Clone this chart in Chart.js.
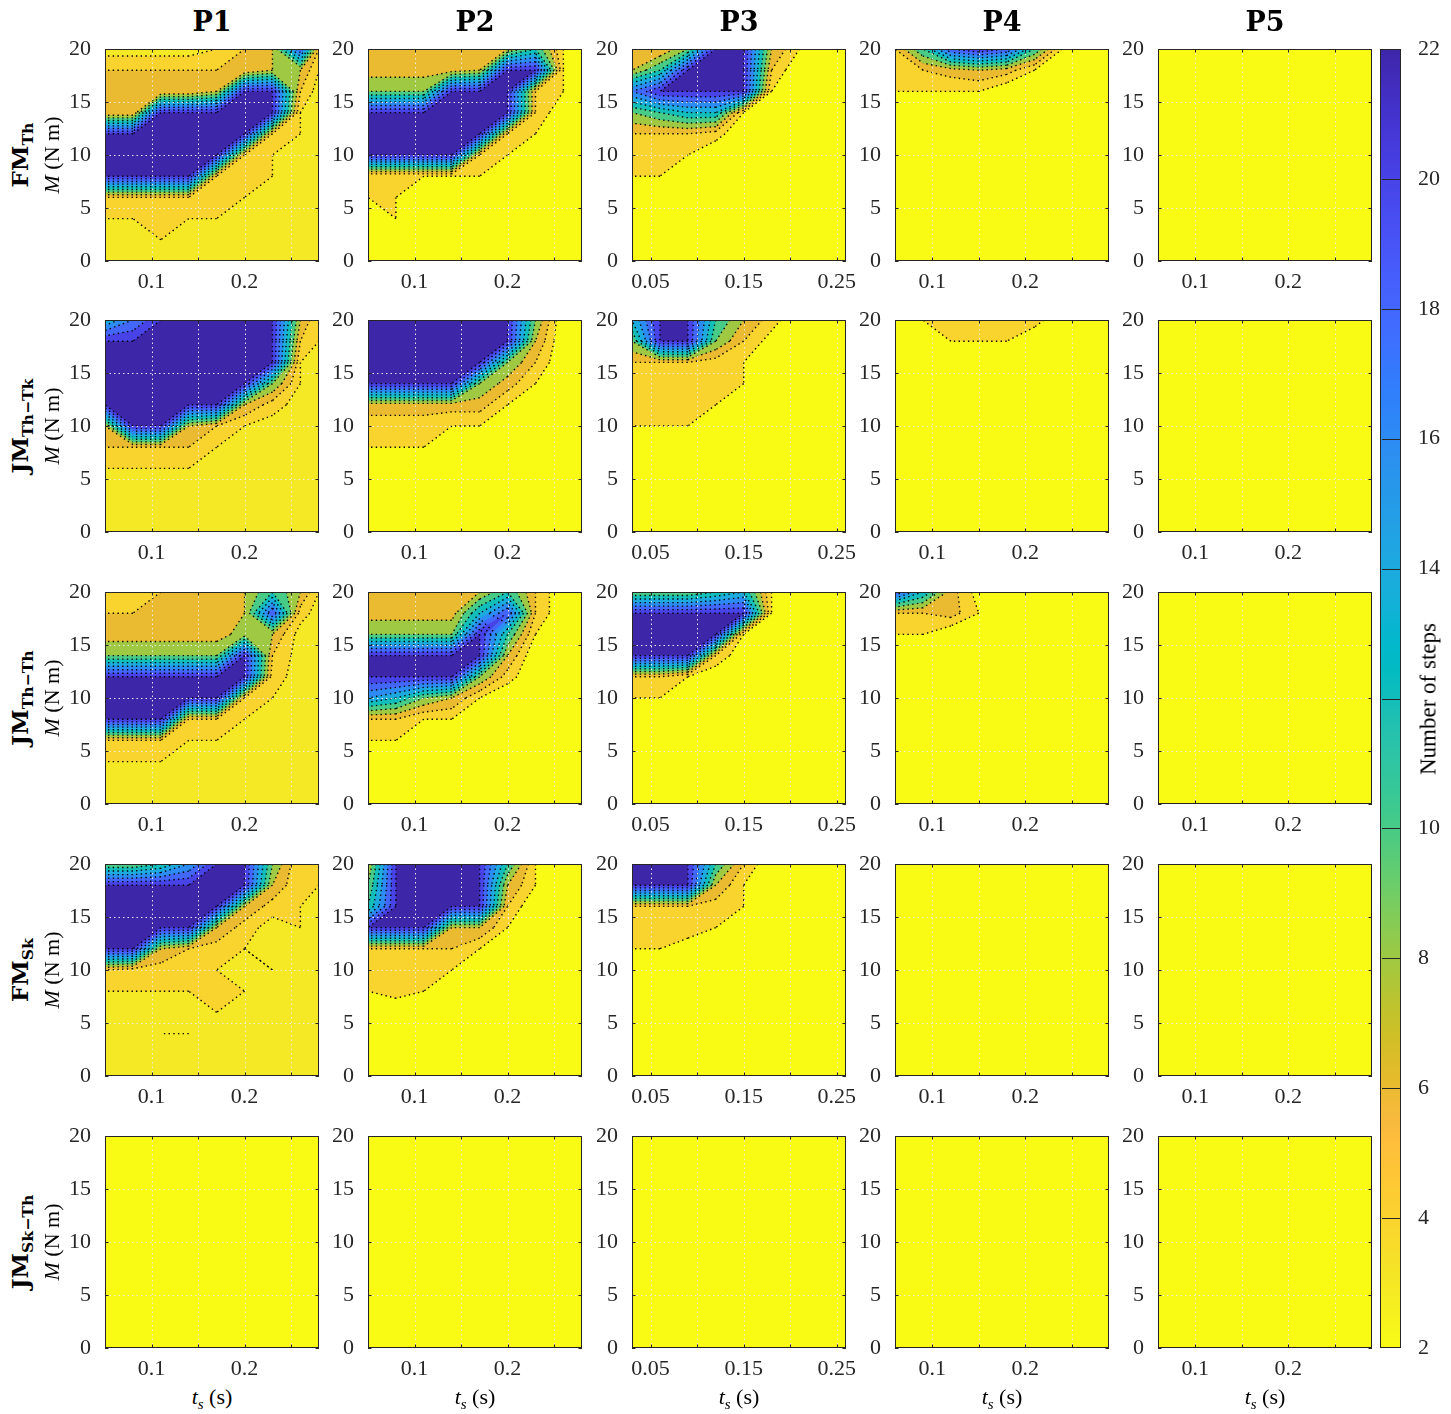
<!DOCTYPE html>
<html>
<head>
<meta charset="utf-8">
<script src="https://cdn.jsdelivr.net/npm/chart.js@4.4.0/dist/chart.umd.min.js"></script>
<style>
  body { margin: 0; background: #fff; width: 1451px; height: 1414px; position: relative; overflow: hidden; }
  canvas { position: absolute; }
  .lbl { position: absolute; white-space: nowrap; color: #000; line-height: 1; }
  .title { font-family: 'DejaVu Serif', serif; font-weight: bold; font-size: 27px; transform: translate(-50%, 0); }
  .rot { transform: translate(-50%, -50%) rotate(-90deg); }
  .bold { font-family: 'DejaVu Serif', serif; font-weight: bold; font-size: 23px; }
  .reg { font-family: 'Liberation Serif', serif; font-size: 22px; }
  .cbl { font-family: 'Liberation Serif', serif; font-size: 23px; }
  .xl { transform: translate(-50%, -50%); }
  sub { font-size: 0.68em; vertical-align: -0.28em; }
</style>
</head>
<body>
<script>
// ---- data ----
const colNames = ['P1', 'P2', 'P3', 'P4', 'P5'];
const rowNames = ['FM<sub>Th</sub>', 'JM<sub>Th\u2212Tk</sub>', 'JM<sub>Th\u2212Th</sub>', 'FM<sub>Sk</sub>', 'JM<sub>Sk\u2212Th</sub>'];

// M (N m), top row of every grid first
const torqueLevels = [20, 18, 16, 14, 12, 10, 8, 6, 4, 2, 0];
// ts (s) sample points per column
const tsP1P2 = [0.05, 0.08, 0.11, 0.14, 0.17, 0.20, 0.23, 0.26, 0.28];
const tsP3 = [0.03, 0.06, 0.09, 0.12, 0.15, 0.18, 0.21, 0.24, 0.26];
const tsP4P5 = [0.06, 0.09, 0.12, 0.15, 0.18, 0.21, 0.24, 0.27, 0.29];

const xTickValues = [
  [0.05, 0.1, 0.15, 0.2, 0.25], [0.05, 0.1, 0.15, 0.2, 0.25], [0.05, 0.1, 0.15, 0.2, 0.25],
  [0.1, 0.15, 0.2, 0.25], [0.1, 0.15, 0.2, 0.25]
];
const xTickLabels = [
  ['', '0.1', '', '0.2', ''], ['', '0.1', '', '0.2', ''], ['0.05', '', '0.15', '', '0.25'],
  ['0.1', '', '0.2', ''], ['0.1', '', '0.2', '']
];
const yTickValues = [0, 5, 10, 15, 20];
const stepLevels = [2, 4, 6, 8, 10, 12, 14, 16, 18, 20, 22];
const colorbarTicks = [2, 4, 6, 8, 10, 12, 14, 16, 18, 20, 22];
const colorbarTickLabels = ['2', '4', '6', '8', '10', '', '14', '16', '18', '20', '22'];

// number of steps, rows = torqueLevels, cols = ts points
const flatTwo = [
  [2, 2, 2, 2, 2, 2, 2, 2, 2], [2, 2, 2, 2, 2, 2, 2, 2, 2], [2, 2, 2, 2, 2, 2, 2, 2, 2],
  [2, 2, 2, 2, 2, 2, 2, 2, 2], [2, 2, 2, 2, 2, 2, 2, 2, 2], [2, 2, 2, 2, 2, 2, 2, 2, 2],
  [2, 2, 2, 2, 2, 2, 2, 2, 2], [2, 2, 2, 2, 2, 2, 2, 2, 2], [2, 2, 2, 2, 2, 2, 2, 2, 2],
  [2, 2, 2, 2, 2, 2, 2, 2, 2], [2, 2, 2, 2, 2, 2, 2, 2, 2]
];

const fmThP1 = [
  [3, 3, 3, 3, 4, 6, 8, 20, 6],
  [6, 6, 6, 6, 6, 6, 8, 8, 4],
  [6, 6, 6, 6, 8, 22, 22, 6, 3],
  [6, 6, 22, 22, 22, 22, 22, 4, 3],
  [22, 22, 22, 22, 22, 22, 6, 4, 3],
  [22, 22, 22, 22, 22, 6, 4, 3, 3],
  [22, 22, 22, 22, 6, 4, 4, 3, 3],
  [6, 6, 6, 6, 4, 4, 3, 3, 3],
  [4, 4, 4, 4, 4, 3, 3, 3, 3],
  [3, 3, 4, 3, 3, 3, 3, 3, 3],
  [3, 3, 3, 3, 3, 3, 3, 3, 3]
];
const fmThP2 = [
  [7, 7, 7, 7, 7, 8, 12, 4, 2],
  [7, 7, 7, 7, 8, 22, 22, 4, 2],
  [10, 10, 10, 22, 22, 22, 6, 4, 2],
  [22, 22, 22, 22, 22, 22, 6, 2, 2],
  [22, 22, 22, 22, 22, 6, 4, 2, 2],
  [22, 22, 22, 22, 6, 4, 2, 2, 2],
  [4, 4, 4, 4, 4, 2, 2, 2, 2],
  [4, 4, 2, 2, 2, 2, 2, 2, 2],
  [2, 4, 2, 2, 2, 2, 2, 2, 2],
  [2, 2, 2, 2, 2, 2, 2, 2, 2],
  [2, 2, 2, 2, 2, 2, 2, 2, 2]
];
const fmThP3 = [
  [6, 6, 10, 22, 22, 8, 4, 2, 2],
  [8, 12, 22, 22, 22, 6, 2, 2, 2],
  [18, 22, 22, 22, 22, 4, 2, 2, 2],
  [10, 12, 14, 14, 4, 2, 2, 2, 2],
  [6, 6, 6, 5, 2, 2, 2, 2, 2],
  [4, 4, 4, 2, 2, 2, 2, 2, 2],
  [4, 4, 2, 2, 2, 2, 2, 2, 2],
  [2, 2, 2, 2, 2, 2, 2, 2, 2],
  [2, 2, 2, 2, 2, 2, 2, 2, 2],
  [2, 2, 2, 2, 2, 2, 2, 2, 2],
  [2, 2, 2, 2, 2, 2, 2, 2, 2]
];
const fmThP4 = [
  [6, 12, 20, 22, 20, 12, 4, 2, 2],
  [4, 6, 7, 8, 7, 4, 2, 2, 2],
  [4, 4, 4, 4, 2, 2, 2, 2, 2],
  [2, 2, 2, 2, 2, 2, 2, 2, 2],
  [2, 2, 2, 2, 2, 2, 2, 2, 2],
  [2, 2, 2, 2, 2, 2, 2, 2, 2],
  [2, 2, 2, 2, 2, 2, 2, 2, 2],
  [2, 2, 2, 2, 2, 2, 2, 2, 2],
  [2, 2, 2, 2, 2, 2, 2, 2, 2],
  [2, 2, 2, 2, 2, 2, 2, 2, 2],
  [2, 2, 2, 2, 2, 2, 2, 2, 2]
];

const jmThTkP1 = [
  [14, 18, 22, 22, 22, 22, 22, 8, 4],
  [22, 22, 22, 22, 22, 22, 22, 6, 4],
  [22, 22, 22, 22, 22, 22, 22, 4, 3],
  [22, 22, 22, 22, 22, 22, 10, 4, 3],
  [22, 22, 22, 22, 22, 8, 5, 3, 3],
  [8, 22, 22, 8, 6, 4, 3, 3, 3],
  [6, 6, 6, 6, 4, 3, 3, 3, 3],
  [4, 4, 4, 4, 3, 3, 3, 3, 3],
  [3, 3, 3, 3, 3, 3, 3, 3, 3],
  [3, 3, 4, 3, 3, 3, 3, 3, 3],
  [3, 3, 3, 3, 3, 3, 3, 3, 3]
];
const jmThTkP2 = [
  [22, 22, 22, 22, 22, 22, 10, 2, 2],
  [22, 22, 22, 22, 22, 22, 8, 2, 2],
  [22, 22, 22, 22, 22, 10, 6, 2, 2],
  [22, 22, 22, 22, 10, 7, 4, 2, 2],
  [7, 7, 7, 7, 7, 4, 2, 2, 2],
  [5, 5, 5, 4, 4, 2, 2, 2, 2],
  [4, 4, 4, 2, 2, 2, 2, 2, 2],
  [2, 2, 2, 2, 2, 2, 2, 2, 2],
  [2, 2, 2, 2, 2, 2, 2, 2, 2],
  [2, 2, 2, 2, 2, 2, 2, 2, 2],
  [2, 2, 2, 2, 2, 2, 2, 2, 2]
];
const jmThTkP3 = [
  [14, 22, 22, 12, 8, 5, 2, 2, 2],
  [10, 22, 22, 10, 6, 3, 2, 2, 2],
  [6, 6, 6, 5, 4, 2, 2, 2, 2],
  [4, 4, 4, 4, 4, 2, 2, 2, 2],
  [4, 4, 4, 4, 2, 2, 2, 2, 2],
  [4, 4, 4, 2, 2, 2, 2, 2, 2],
  [2, 2, 2, 2, 2, 2, 2, 2, 2],
  [2, 2, 2, 2, 2, 2, 2, 2, 2],
  [2, 2, 2, 2, 2, 2, 2, 2, 2],
  [2, 2, 2, 2, 2, 2, 2, 2, 2],
  [2, 2, 2, 2, 2, 2, 2, 2, 2]
];
const jmThTkP4 = [
  [2, 4, 5, 5, 5, 5, 2, 2, 2],
  [2, 2, 4, 4, 4, 2, 2, 2, 2],
  [2, 2, 2, 2, 2, 2, 2, 2, 2],
  [2, 2, 2, 2, 2, 2, 2, 2, 2],
  [2, 2, 2, 2, 2, 2, 2, 2, 2],
  [2, 2, 2, 2, 2, 2, 2, 2, 2],
  [2, 2, 2, 2, 2, 2, 2, 2, 2],
  [2, 2, 2, 2, 2, 2, 2, 2, 2],
  [2, 2, 2, 2, 2, 2, 2, 2, 2],
  [2, 2, 2, 2, 2, 2, 2, 2, 2],
  [2, 2, 2, 2, 2, 2, 2, 2, 2]
];

const jmThThP1 = [
  [5, 5, 6, 6, 6, 8, 12, 8, 4],
  [6, 6, 7, 7, 7, 8, 20, 5, 3],
  [7, 7, 7, 7, 7, 9, 8, 3, 3],
  [10, 10, 10, 10, 10, 22, 6, 3, 3],
  [22, 22, 22, 22, 22, 22, 5, 3, 3],
  [22, 22, 22, 22, 22, 6, 4, 3, 3],
  [22, 22, 22, 6, 6, 4, 3, 3, 3],
  [6, 6, 6, 4, 4, 3, 3, 3, 3],
  [4, 4, 4, 3, 3, 3, 3, 3, 3],
  [3, 3, 3, 3, 3, 3, 3, 3, 3],
  [3, 3, 3, 3, 3, 3, 3, 3, 3]
];
const jmThThP2 = [
  [7, 7, 7, 7, 8, 12, 6, 2, 2],
  [7, 7, 7, 7, 14, 20, 6, 2, 2],
  [10, 10, 10, 10, 22, 12, 4, 2, 2],
  [22, 22, 22, 22, 22, 8, 2, 2, 2],
  [22, 22, 22, 22, 10, 5, 2, 2, 2],
  [16, 14, 10, 8, 4, 2, 2, 2, 2],
  [6, 6, 4, 4, 2, 2, 2, 2, 2],
  [4, 4, 2, 2, 2, 2, 2, 2, 2],
  [2, 2, 2, 2, 2, 2, 2, 2, 2],
  [2, 2, 2, 2, 2, 2, 2, 2, 2],
  [2, 2, 2, 2, 2, 2, 2, 2, 2]
];
const jmThThP3 = [
  [10, 10, 10, 12, 14, 4, 2, 2, 2],
  [22, 22, 22, 22, 22, 4, 2, 2, 2],
  [22, 22, 22, 22, 4, 2, 2, 2, 2],
  [22, 22, 22, 6, 2, 2, 2, 2, 2],
  [6, 6, 4, 2, 2, 2, 2, 2, 2],
  [4, 4, 2, 2, 2, 2, 2, 2, 2],
  [2, 2, 2, 2, 2, 2, 2, 2, 2],
  [2, 2, 2, 2, 2, 2, 2, 2, 2],
  [2, 2, 2, 2, 2, 2, 2, 2, 2],
  [2, 2, 2, 2, 2, 2, 2, 2, 2],
  [2, 2, 2, 2, 2, 2, 2, 2, 2]
];
const jmThThP4 = [
  [20, 14, 7, 3, 2, 2, 2, 2, 2],
  [6, 6, 7, 4, 2, 2, 2, 2, 2],
  [4, 4, 2, 2, 2, 2, 2, 2, 2],
  [2, 2, 2, 2, 2, 2, 2, 2, 2],
  [2, 2, 2, 2, 2, 2, 2, 2, 2],
  [2, 2, 2, 2, 2, 2, 2, 2, 2],
  [2, 2, 2, 2, 2, 2, 2, 2, 2],
  [2, 2, 2, 2, 2, 2, 2, 2, 2],
  [2, 2, 2, 2, 2, 2, 2, 2, 2],
  [2, 2, 2, 2, 2, 2, 2, 2, 2],
  [2, 2, 2, 2, 2, 2, 2, 2, 2]
];

const fmSkP1 = [
  [10, 10, 12, 16, 22, 22, 10, 4, 4],
  [22, 22, 22, 22, 22, 22, 8, 4, 4],
  [22, 22, 22, 22, 22, 8, 5, 4, 3],
  [22, 22, 22, 22, 8, 5, 3, 4, 3],
  [22, 22, 8, 6, 5, 4, 3, 3, 3],
  [6, 5, 5, 5, 4, 3, 4, 3, 3],
  [4, 4, 4, 4, 4, 4, 3, 3, 3],
  [3, 3, 3, 3, 4, 3, 3, 3, 3],
  [3, 3, 4, 4, 3, 3, 3, 3, 3],
  [3, 3, 3, 3, 3, 3, 3, 3, 3],
  [3, 3, 3, 3, 3, 3, 3, 3, 3]
];
const fmSkP2 = [
  [8, 22, 22, 22, 22, 12, 4, 2, 2],
  [10, 22, 22, 22, 22, 8, 4, 2, 2],
  [12, 22, 22, 22, 22, 6, 2, 2, 2],
  [22, 22, 22, 8, 8, 4, 2, 2, 2],
  [6, 6, 6, 6, 4, 2, 2, 2, 2],
  [5, 5, 5, 4, 2, 2, 2, 2, 2],
  [4, 5, 4, 2, 2, 2, 2, 2, 2],
  [2, 2, 2, 2, 2, 2, 2, 2, 2],
  [2, 2, 2, 2, 2, 2, 2, 2, 2],
  [2, 2, 2, 2, 2, 2, 2, 2, 2],
  [2, 2, 2, 2, 2, 2, 2, 2, 2]
];
const fmSkP3 = [
  [22, 22, 22, 12, 6, 2, 2, 2, 2],
  [22, 22, 22, 8, 4, 2, 2, 2, 2],
  [6, 6, 6, 5, 4, 2, 2, 2, 2],
  [5, 5, 5, 4, 2, 2, 2, 2, 2],
  [4, 4, 3, 2, 2, 2, 2, 2, 2],
  [2, 2, 2, 2, 2, 2, 2, 2, 2],
  [2, 2, 2, 2, 2, 2, 2, 2, 2],
  [2, 2, 2, 2, 2, 2, 2, 2, 2],
  [2, 2, 2, 2, 2, 2, 2, 2, 2],
  [2, 2, 2, 2, 2, 2, 2, 2, 2],
  [2, 2, 2, 2, 2, 2, 2, 2, 2]
];

const panelSteps = [
  [fmThP1, fmThP2, fmThP3, fmThP4, flatTwo],
  [jmThTkP1, jmThTkP2, jmThTkP3, jmThTkP4, flatTwo],
  [jmThThP1, jmThThP2, jmThThP3, jmThThP4, flatTwo],
  [fmSkP1, fmSkP2, fmSkP3, flatTwo, flatTwo],
  [flatTwo, flatTwo, flatTwo, flatTwo, flatTwo]
];
const tsGrids = [tsP1P2, tsP1P2, tsP3, tsP4P5, tsP4P5];

// ---- layout ----
const plotLeft = [105, 368, 632, 895, 1158];
const plotTop = [49, 320, 592, 864, 1136];
const plotW = 214, plotH = 212;
const padL = 52, padT = 12, padR = 18, padB = 34;
const cbar = { left: 1380, top: 49, width: 21, height: 1299 };

// parula colormap (MATLAB), reversed for "Number of steps"
const parula = [
  [.2422,.1504,.6603],[.2504,.1650,.7076],[.2578,.1818,.7511],[.2647,.1978,.7952],[.2706,.2147,.8364],[.2751,.2342,.8710],
  [.2783,.2559,.8991],[.2803,.2782,.9221],[.2813,.3006,.9414],[.2810,.3228,.9579],[.2795,.3447,.9717],[.2760,.3667,.9829],
  [.2699,.3892,.9906],[.2602,.4123,.9952],[.2440,.4358,.9988],[.2206,.4603,.9973],[.1963,.4847,.9892],[.1834,.5074,.9798],
  [.1786,.5289,.9682],[.1764,.5499,.9520],[.1687,.5703,.9359],[.1540,.5902,.9218],[.1460,.6091,.9079],[.1380,.6276,.8973],
  [.1248,.6459,.8883],[.1113,.6635,.8763],[.0952,.6798,.8598],[.0689,.6948,.8394],[.0297,.7082,.8163],[.0036,.7203,.7917],
  [.0067,.7312,.7660],[.0433,.7411,.7394],[.0964,.7500,.7120],[.1408,.7584,.6842],[.1717,.7670,.6554],[.1938,.7758,.6251],
  [.2161,.7843,.5923],[.2470,.7918,.5567],[.2906,.7973,.5188],[.3406,.8008,.4789],[.3909,.8029,.4354],[.4456,.8024,.3909],
  [.5044,.7993,.3480],[.5616,.7942,.3045],[.6174,.7876,.2612],[.6720,.7793,.2227],[.7242,.7698,.1910],[.7738,.7598,.1646],
  [.8203,.7498,.1535],[.8634,.7406,.1596],[.9035,.7330,.1774],[.9393,.7288,.2100],[.9728,.7298,.2394],[.9956,.7434,.2371],
  [.9970,.7659,.2199],[.9952,.7893,.2028],[.9892,.8136,.1885],[.9786,.8386,.1766],[.9676,.8639,.1643],[.9610,.8890,.1537],
  [.9597,.9135,.1423],[.9628,.9373,.1265],[.9691,.9606,.1064],[.9769,.9839,.0805]
];

function rgb(c) {
  return 'rgb(' + Math.round(c[0] * 255) + ',' + Math.round(c[1] * 255) + ',' + Math.round(c[2] * 255) + ')';
}
function parulaAt(s) {
  const f = Math.min(Math.max(s, 0), 1) * 63;
  const i = Math.min(Math.floor(f), 62), t = f - i;
  const a = parula[i], b = parula[i + 1];
  return rgb([0, 1, 2].map(k => a[k] + (b[k] - a[k]) * t));
}
function stepColor(v) {
  return parulaAt((22 - v) / 20);
}

// one cell of the grid against a level: filled polygon (z >= level) and crossing points
function cellCut(level, c) {
  const poly = [], cross = [];
  for (let k = 0; k < 4; k++) {
    const p = c[k], q = c[(k + 1) % 4];
    const pin = p.z >= level, qin = q.z >= level;
    if (pin) poly.push([p.x, p.y]);
    if (pin !== qin) {
      const t = (level - p.z) / (q.z - p.z);
      const pt = [p.x + (q.x - p.x) * t, p.y + (q.y - p.y) * t];
      poly.push(pt);
      cross.push(pt);
    }
  }
  return { poly, cross };
}

const contourPlugin = {
  id: 'contour',
  beforeDatasetsDraw(chart) {
    const ds = chart.data.datasets[0];
    const nx = ds.nx, ny = ds.data.length / nx;
    const { ctx, chartArea: a, scales: { x, y } } = chart;
    const node = (i, j) => {
      const p = ds.data[j * nx + i];
      return { x: x.getPixelForValue(p.x), y: y.getPixelForValue(p.y), z: p.v };
    };
    const cells = [];
    for (let j = 0; j < ny - 1; j++) {
      for (let i = 0; i < nx - 1; i++) {
        cells.push([node(i, j), node(i + 1, j), node(i + 1, j + 1), node(i, j + 1)]);
      }
    }
    const zmin = Math.min(...ds.data.map(p => p.v));
    const levels = stepLevels.filter(l => l > zmin);

    ctx.save();
    ctx.beginPath();
    ctx.rect(a.left, a.top, a.right - a.left, a.bottom - a.top);
    ctx.clip();
    ctx.fillStyle = stepColor(zmin);
    ctx.fillRect(a.left, a.top, a.right - a.left, a.bottom - a.top);

    levels.forEach(level => {
      ctx.beginPath();
      cells.forEach(c => {
        const { poly } = cellCut(level, c);
        if (poly.length < 3) return;
        ctx.moveTo(poly[0][0], poly[0][1]);
        for (let k = 1; k < poly.length; k++) ctx.lineTo(poly[k][0], poly[k][1]);
        ctx.closePath();
      });
      ctx.fillStyle = stepColor(level);
      ctx.fill();
    });

    ctx.strokeStyle = '#000';
    ctx.lineWidth = 1.4;
    ctx.setLineDash([1.4, 3.3]);
    levels.forEach(level => {
      ctx.beginPath();
      cells.forEach(c => {
        const { cross } = cellCut(level, c);
        for (let k = 0; k + 1 < cross.length; k += 2) {
          ctx.moveTo(cross[k][0], cross[k][1]);
          ctx.lineTo(cross[k + 1][0], cross[k + 1][1]);
        }
      });
      ctx.stroke();
    });
    ctx.restore();
  }
};

const framePlugin = {
  id: 'frame',
  afterDatasetsDraw(chart) {
    const { ctx, chartArea: a, scales: { x, y } } = chart;
    ctx.save();
    ctx.lineWidth = 1;
    ctx.strokeStyle = 'rgba(236,236,236,0.95)';
    ctx.setLineDash([1.5, 3]);
    ctx.beginPath();
    x.ticks.forEach(t => {
      const p = Math.round(x.getPixelForValue(t.value)) + 0.5;
      if (p < a.left + 2 || p > a.right - 2) return;
      ctx.moveTo(p, a.top); ctx.lineTo(p, a.bottom);
    });
    y.ticks.forEach(t => {
      const p = Math.round(y.getPixelForValue(t.value)) + 0.5;
      if (p < a.top + 2 || p > a.bottom - 2) return;
      ctx.moveTo(a.left, p); ctx.lineTo(a.right, p);
    });
    ctx.stroke();

    ctx.setLineDash([]);
    ctx.strokeStyle = '#262626';
    ctx.beginPath();
    x.ticks.forEach(t => {
      const p = Math.round(x.getPixelForValue(t.value)) + 0.5;
      ctx.moveTo(p, a.bottom); ctx.lineTo(p, a.bottom - 3.5);
      ctx.moveTo(p, a.top); ctx.lineTo(p, a.top + 3.5);
    });
    y.ticks.forEach(t => {
      const p = Math.round(y.getPixelForValue(t.value)) + 0.5;
      ctx.moveTo(a.left, p); ctx.lineTo(a.left + 3.5, p);
      ctx.moveTo(a.right, p); ctx.lineTo(a.right - 3.5, p);
    });
    ctx.stroke();
    ctx.strokeRect(a.left + 0.5, a.top + 0.5, a.right - a.left - 1, a.bottom - a.top - 1);
    ctx.restore();
  }
};

const tickFont = { family: "'Liberation Serif', serif", size: 22 };

function makePanel(r, c) {
  const canvas = document.createElement('canvas');
  canvas.width = padL + plotW + padR;
  canvas.height = padT + plotH + padB;
  canvas.style.left = (plotLeft[c] - padL) + 'px';
  canvas.style.top = (plotTop[r] - padT) + 'px';
  document.body.appendChild(canvas);

  const ts = tsGrids[c], steps = panelSteps[r][c];
  const points = [];
  torqueLevels.forEach((m, j) => ts.forEach((t, i) => points.push({ x: t, y: m, v: steps[j][i] })));

  new Chart(canvas, {
    type: 'scatter',
    data: { datasets: [{ data: points, nx: ts.length, pointRadius: 0, pointHoverRadius: 0 }] },
    options: {
      responsive: false, animation: false, devicePixelRatio: 1, events: [],
      layout: { padding: { top: padT, right: padR, left: 0, bottom: 0 } },
      plugins: { legend: { display: false }, tooltip: { enabled: false } },
      scales: {
        x: {
          type: 'linear', min: ts[0], max: ts[ts.length - 1],
          afterBuildTicks: axis => { axis.ticks = xTickValues[c].map(v => ({ value: v })); },
          afterFit: s => { s.height = padB; s.paddingLeft = 0; s.paddingRight = 0; },
          ticks: { callback: (v, i) => xTickLabels[c][i], font: tickFont, color: '#262626', padding: 0, maxRotation: 0, autoSkip: false },
          grid: { display: false }, border: { display: false }
        },
        y: {
          type: 'linear', min: 0, max: 20,
          afterBuildTicks: axis => { axis.ticks = yTickValues.map(v => ({ value: v })); },
          afterFit: s => { s.width = padL; s.paddingTop = 0; s.paddingBottom = 0; },
          ticks: { callback: v => String(v), font: tickFont, color: '#262626', padding: 6, autoSkip: false },
          grid: { display: false }, border: { display: false }
        }
      }
    },
    plugins: [contourPlugin, framePlugin]
  });
}

const colorbarPlugin = {
  id: 'colorbar',
  beforeDatasetsDraw(chart) {
    const { ctx, chartArea: a, scales: { y } } = chart;
    ctx.save();
    const g = ctx.createLinearGradient(0, a.top, 0, a.bottom);
    parula.forEach((c, i) => g.addColorStop(i / 63, rgb(c)));
    ctx.fillStyle = g;
    ctx.fillRect(a.left, a.top, a.right - a.left, a.bottom - a.top);
    ctx.strokeStyle = '#262626';
    ctx.lineWidth = 1;
    ctx.beginPath();
    y.ticks.forEach(t => {
      const p = Math.round(y.getPixelForValue(t.value)) + 0.5;
      if (p < a.top + 2 || p > a.bottom - 2) return;
      ctx.moveTo(a.left + 2, p); ctx.lineTo(a.right, p);
    });
    ctx.stroke();
    ctx.strokeRect(a.left + 0.5, a.top + 0.5, a.right - a.left - 1, a.bottom - a.top - 1);
    ctx.restore();
  }
};

function makeColorbar() {
  const canvas = document.createElement('canvas');
  const cbPad = 4, cbLabel = 46;
  canvas.width = cbPad + cbar.width + cbLabel;
  canvas.height = padT + cbar.height + padT;
  canvas.style.left = (cbar.left - cbPad) + 'px';
  canvas.style.top = (cbar.top - padT) + 'px';
  document.body.appendChild(canvas);
  new Chart(canvas, {
    type: 'scatter',
    data: { datasets: [] },
    options: {
      responsive: false, animation: false, devicePixelRatio: 1, events: [],
      layout: { padding: { top: padT, bottom: padT, left: cbPad, right: 0 } },
      plugins: { legend: { display: false }, tooltip: { enabled: false } },
      scales: {
        x: { display: false, min: 0, max: 1 },
        y: {
          type: 'linear', position: 'right', min: 2, max: 22,
          afterBuildTicks: axis => { axis.ticks = colorbarTicks.map(v => ({ value: v })); },
          afterFit: s => { s.width = cbLabel; s.paddingTop = 0; s.paddingBottom = 0; },
          ticks: { callback: (v, i) => colorbarTickLabels[i], font: tickFont, color: '#262626', padding: 9 },
          grid: { display: false }, border: { display: false }
        }
      }
    },
    plugins: [colorbarPlugin]
  });
}

function addLabel(html, cls, left, top) {
  const d = document.createElement('div');
  d.className = 'lbl ' + cls;
  d.innerHTML = html;
  d.style.left = left + 'px';
  d.style.top = top + 'px';
  document.body.appendChild(d);
}

for (let r = 0; r < 5; r++) {
  for (let c = 0; c < 5; c++) makePanel(r, c);
}
makeColorbar();

colNames.forEach((n, c) => addLabel(n, 'title', plotLeft[c] + plotW / 2, 8));
rowNames.forEach((n, r) => {
  const cy = plotTop[r] + plotH / 2;
  addLabel(n, 'bold rot', 22, cy);
  addLabel('<i>M</i> (N m)', 'reg rot', 52, cy);
});
plotLeft.forEach(l => addLabel('<i>t</i><sub><i>s</i></sub> (s)', 'reg xl', l + plotW / 2, 1399));
addLabel('Number of steps', 'cbl rot', 1428, cbar.top + cbar.height / 2);
</script>
</body>
</html>
